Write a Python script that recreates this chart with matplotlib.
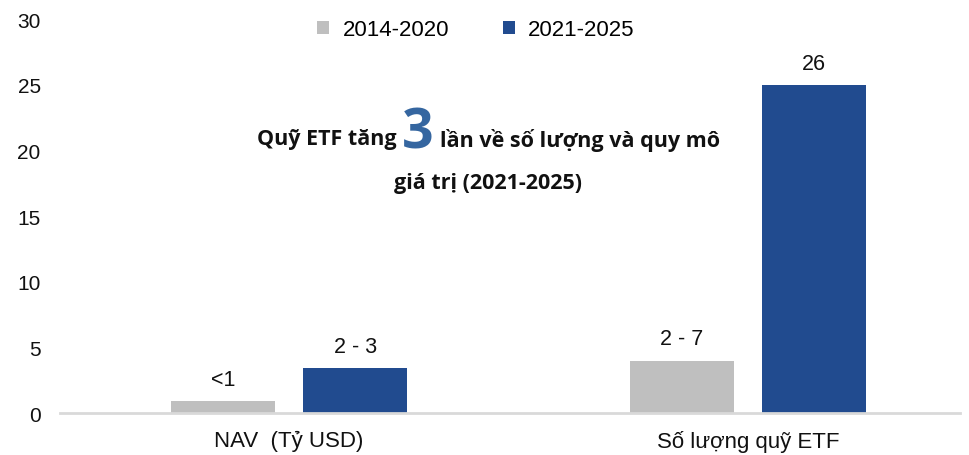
import numpy as np
import matplotlib.pyplot as plt

plt.rcParams['font.family'] = ['Liberation Sans', 'DejaVu Sans']

categories = ['NAV  (Tỷ USD)', 'Số lượng quỹ ETF']
series_names = ['2014-2020', '2021-2025']
vals_old = [0.9, 4.0]
vals_new = [3.4, 25.0]
labels_old = ['<1', '2 - 7']
labels_new = ['2 - 3', '26']
yticks = [0, 5, 10, 15, 20, 25, 30]

gray = '#BFBFBF'
blue = '#214B8F'

fig = plt.figure(figsize=(9.69, 4.56), dpi=100)
ax = fig.add_axes([0.062, 0.092, 0.929, 0.864])

x = np.array([0.0, 1.0])
w = 0.227
off = 0.144
b1 = ax.bar(x - off, vals_old, w, color=gray, label=series_names[0])
b2 = ax.bar(x + off, vals_new, w, color=blue, label=series_names[1])

for bars, labs in ((b1, labels_old), (b2, labels_new)):
    for r, t in zip(bars, labs):
        ax.annotate(t, (r.get_x() + r.get_width() / 2, r.get_height()),
                    xytext=(0, 8), textcoords='offset points',
                    ha='center', va='bottom', fontsize=15.5, color='#111111')

ax.set_xlim(-0.499, 1.462)
ax.set_ylim(0, 30)
ax.set_yticks(yticks)
ax.set_xticks(x)
ax.set_xticklabels(categories)
ax.tick_params(axis='both', length=0, labelsize=15, colors='#111111')
ax.tick_params(axis='y', pad=14)
ax.tick_params(axis='x', pad=12, labelsize=16)
for s in ['top', 'right', 'left']:
    ax.spines[s].set_visible(False)
ax.spines['bottom'].set_color('#D9D9D9')
ax.spines['bottom'].set_linewidth(2)

ax.legend(loc='upper center', bbox_to_anchor=(0.462, 1.05), ncol=2, frameon=False,
          fontsize=16, handlelength=0.55, handleheight=0.55, columnspacing=2.4,
          handletextpad=0.6)

# annotation in the middle
ann = dict(fontsize=15.5, fontweight='bold', family=['Open Sans', 'DejaVu Sans'],
           color='#111111', va='center')
y1 = 1 - 140 / 456
fig.text(397 / 969, y1, 'Quỹ ETF tăng', ha='right', **ann)
fig.text(418 / 969, 1 - 134 / 456, '3', ha='center', va='center', fontsize=40,
         fontweight='bold', family=['Open Sans', 'DejaVu Sans'], color='#3566A0')
fig.text(440 / 969, y1, 'lần về số lượng và quy mô', ha='left', **ann)
fig.text(488 / 969, 1 - 184 / 456, 'giá trị (2021-2025)', ha='center', **ann)

fig.savefig('out.png', dpi=100)
